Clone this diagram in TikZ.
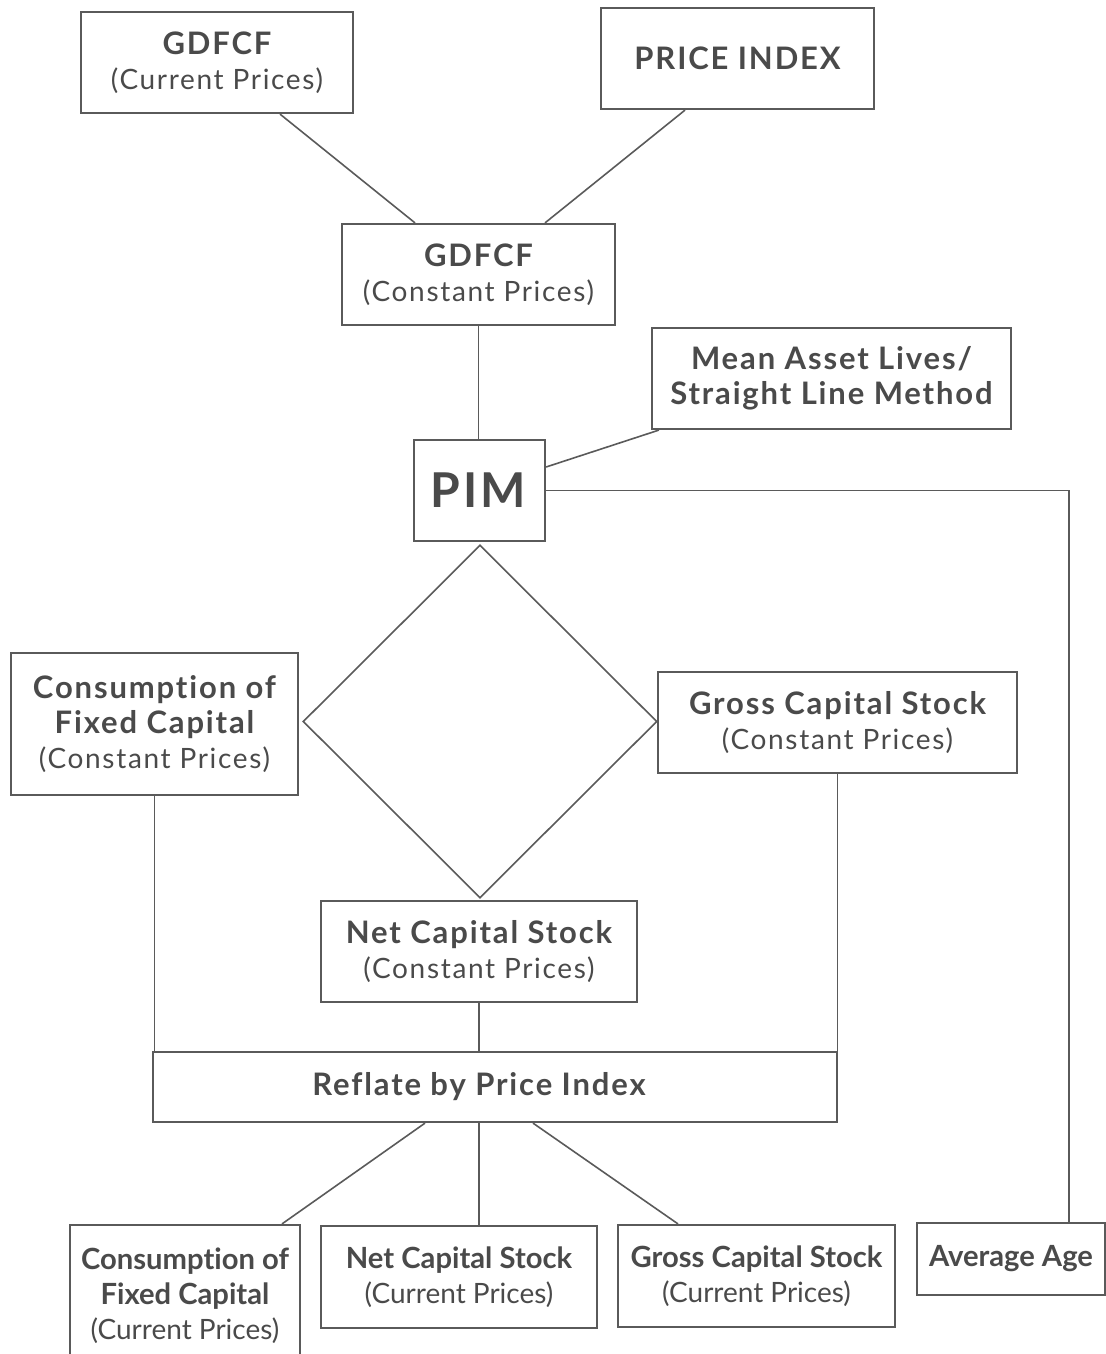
\documentclass[tikz,border=0pt]{standalone}
\usepackage{fontspec}
\setmainfont{Lato}[LetterSpace=6, Ligatures=NoCommon]
\newfontfamily\tightfont{Lato}[Ligatures=NoCommon]
\usepackage{xcolor}
\usepackage{tikz}
\usetikzlibrary{shapes.geometric}

\definecolor{inkgray}{HTML}{4A4A4A}
\definecolor{rulegray}{HTML}{5A5A5A}
\newcommand{\boxhead}[1]{{\fontsize{15.5}{17.5}\selectfont\bfseries #1}}
\newcommand{\rowhead}[1]{{\fontsize{14.6}{17.5}\selectfont\bfseries #1}}

\begin{document}
\begin{tikzpicture}[
  x=0.5pt, y=-0.5pt,
  box/.style={draw=rulegray, line width=1.1pt, inner sep=0pt, align=center,
    text=inkgray, font=\fontsize{14}{17.5}\selectfont},
  rowbox/.style={box, font=\tightfont\fontsize{14}{17.5}\selectfont},
  link/.style={draw=rulegray, line width=0.8pt},
]
\useasboundingbox (0,0) rectangle (1106,1354);
\clip (0,0) rectangle (1106,1354);

% --- Top row
\node[box, minimum width=136pt, minimum height=50.5pt] (gcur) at (217,62.5)
  {\boxhead{GDFCF}\\(Current Prices)};
\node[box, minimum width=136.5pt, minimum height=50.5pt] (pidx) at (737.5,58.5)
  {\boxhead{PRICE INDEX}};

% --- Deflated series and PIM
\node[box, minimum width=136.5pt, minimum height=50.5pt] (gcon) at (478.5,274.5)
  {\boxhead{GDFCF}\\(Constant Prices)};
\node[box, minimum width=179.5pt, minimum height=50.5pt] (lives) at (831.5,378.5)
  {\boxhead{Mean Asset Lives/}\\\boxhead{Straight Line Method}};
\node[box, minimum width=65.5pt, minimum height=50.5pt, font=\fontsize{24}{26}\selectfont] (pim) at (479.5,490.5)
  {\textbf{PIM}};

% --- Constant price results
\node[draw=rulegray, line width=0.8pt, diamond, inner sep=0pt,
  minimum width=177pt, minimum height=176.5pt] (split) at (480,721.5) {};
\node[box, minimum width=143.5pt, minimum height=71pt] (cfc) at (154.5,724)
  {\boxhead{Consumption of}\\\boxhead{Fixed Capital}\\(Constant Prices)};
\node[box, minimum width=179.5pt, minimum height=50.5pt] (gcs) at (837.5,722.5)
  {\boxhead{Gross Capital Stock}\\(Constant Prices)};
\node[box, minimum width=158pt, minimum height=50.5pt] (ncs) at (479,951.5)
  {\boxhead{Net Capital Stock}\\(Constant Prices)};

% --- Reflation
\node[box, minimum width=342pt, minimum height=35pt] (refl) at (495,1087)
  {\hspace*{-16pt}\boxhead{Reflate by Price Index}};

% --- Current price results
\node[rowbox, minimum width=115pt, minimum height=71pt] (cfcc) at (185,1296)
  {\rowhead{Consumption of}\\\rowhead{Fixed Capital}\\(Current Prices)};
\node[rowbox, minimum width=138pt, minimum height=51pt] (ncsc) at (459,1277)
  {\rowhead{Net Capital Stock}\\(Current Prices)};
\node[rowbox, minimum width=138.5pt, minimum height=51pt] (gcsc) at (756.5,1276)
  {\rowhead{Gross Capital Stock}\\(Current Prices)};
\node[rowbox, minimum width=94pt, minimum height=36pt] (avg) at (1011,1259)
  {\rowhead{Average Age}};

% --- Connectors
\draw[link] ([xshift=31.5pt]gcur.south) -- ([xshift=-31.75pt]gcon.north);
\draw[link] ([xshift=-26.25pt]pidx.south) -- ([xshift=33.25pt]gcon.north);
\draw[link] (gcon.south) -- (gcon.south |- pim.north);
\draw[link] ([xshift=4pt]lives.south west) -- ([yshift=11.75pt]pim.east);
\draw[link] (pim.east) -| ([xshift=29pt]avg.north);

\draw[link] (cfc.south) -- (cfc.south |- refl.north);
\draw[link] (gcs.south) -- (gcs.south |- refl.north);
\draw[link] (ncs.south) -- (ncs.south |- refl.north);

\draw[link] ([xshift=-35pt]refl.south) -- ([xshift=48.5pt]cfcc.north);
\draw[link] (ncs.south |- refl.south) -- (ncs.south |- ncsc.north);
\draw[link] ([xshift=19pt]refl.south) -- ([xshift=-39.25pt]gcsc.north);

\end{tikzpicture}
\end{document}
